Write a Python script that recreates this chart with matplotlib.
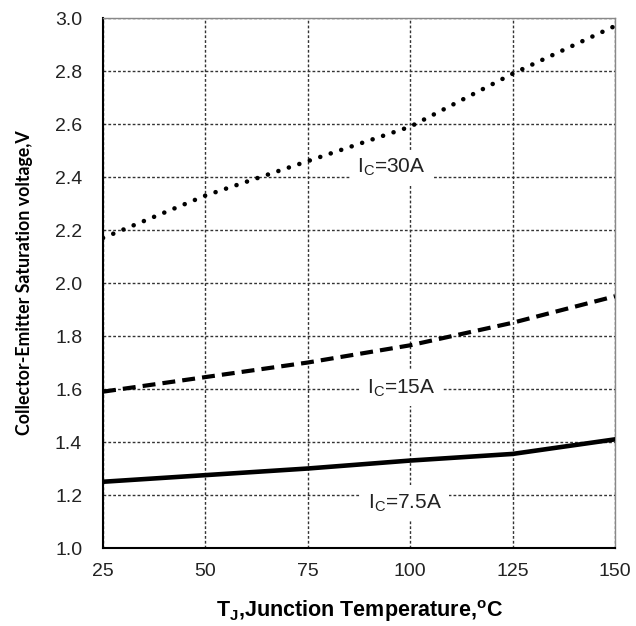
import matplotlib
matplotlib.use("Agg")
import matplotlib.pyplot as plt

plt.rcParams['font.family'] = ['Liberation Sans', 'DejaVu Sans']
plt.rcParams['mathtext.fontset'] = 'custom'
plt.rcParams['mathtext.rm'] = 'Liberation Sans'
plt.rcParams['mathtext.bf'] = 'Liberation Sans:bold'

temps = [25, 50, 75, 100, 125, 150]
vce_30a = [2.17, 2.33, 2.46, 2.59, 2.79, 2.97]
vce_15a = [1.59, 1.645, 1.70, 1.765, 1.85, 1.95]
vce_7p5a = [1.25, 1.275, 1.30, 1.33, 1.355, 1.41]
xticks = [25, 50, 75, 100, 125, 150]
yticks = [1.0, 1.2, 1.4, 1.6, 1.8, 2.0, 2.2, 2.4, 2.6, 2.8, 3.0]

fig = plt.figure(figsize=(6.36, 6.26), dpi=100)
ax = fig.add_axes([0.162, 0.1246, 0.805, 0.8466])

ax.plot(temps, vce_30a, color='black', linestyle=(0, (0.01, 2.4)), linewidth=3.3,
        dash_capstyle='round', zorder=3)
ax.plot(temps, vce_15a, color='black', linestyle=(0, (3.1, 1.7)), linewidth=3.0, zorder=3)
ax.plot(temps, vce_7p5a, color='black', linestyle='-', linewidth=3.3, zorder=3)

ax.set_xlim(25, 150)
ax.set_ylim(1.0, 3.0)
ax.set_xticks(xticks)
ax.set_yticks(yticks)
ax.set_yticklabels([f"{v:.1f}" for v in yticks])
ax.grid(True, color='#333333', linestyle=(0, (2, 1.5)), linewidth=1.0)
ax.tick_params(length=0, labelsize=14, labelcolor='#222222')
ax.tick_params(axis='x', pad=11)
ax.tick_params(axis='y', pad=15)

for s in ['left', 'bottom']:
    ax.spines[s].set_linewidth(1.5)
for s in ['top', 'right']:
    ax.spines[s].set_color('#888888')
    ax.spines[s].set_linewidth(1.0)

bbox = dict(facecolor='white', edgecolor='none', pad=5)
ax.text(87, 2.437, r"I$_\mathregular{C}$=30A", ha='left', va='center', fontsize=15,
        color='#222222', bbox=bbox, zorder=5)
ax.text(89.5, 1.604, r"I$_\mathregular{C}$=15A", ha='left', va='center', fontsize=15,
        color='#222222', bbox=bbox, zorder=5)
ax.text(89.7, 1.17, r"I$_\mathregular{C}$=7.5A", ha='left', va='center', fontsize=15,
        color='#222222', bbox=bbox, zorder=5)

ax.set_ylabel("Collector-Emitter Saturation voltage,V", fontsize=12.8, fontweight='bold',
              family=['Lato', 'DejaVu Sans'], labelpad=16)
ax.set_xlabel(r"T$_\mathbf{J}$,Junction Temperature,$^\mathbf{o}$C", fontsize=15.5,
              fontweight='bold', labelpad=13)

fig.savefig("out.png", dpi=100)
